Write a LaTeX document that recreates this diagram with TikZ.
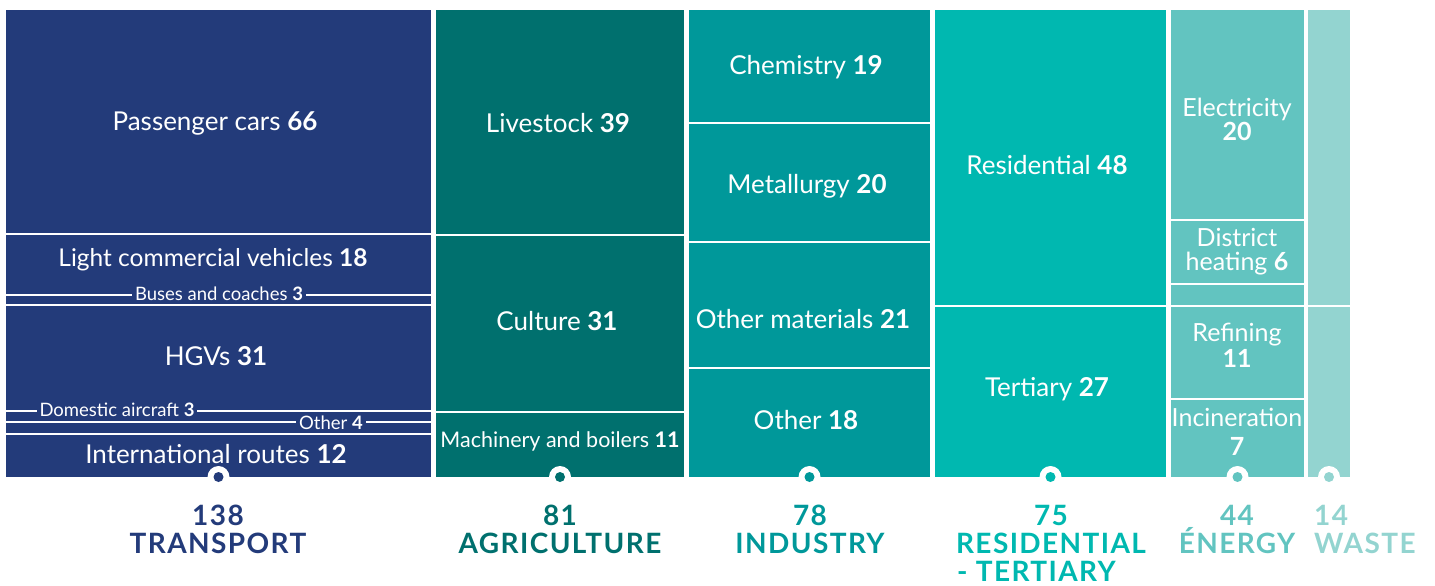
\documentclass[tikz,border=0pt]{standalone}
\usepackage{fontspec}
\setmainfont{Lato}
\definecolor{ctrans}{HTML}{233B7A}
\definecolor{cagri}{HTML}{00706E}
\definecolor{cind}{HTML}{00989A}
\definecolor{cres}{HTML}{00B8B0}
\definecolor{cene}{HTML}{62C4C0}
\definecolor{cwas}{HTML}{93D4D0}
\tikzset{
  sep/.style={draw=white, line width=2pt},
  lbl/.style={text=white, inner sep=0pt, font=\fontsize{26}{29}\selectfont, align=center},
  elbl/.style={text=white, inner sep=0pt, align=center},
  small/.style={text=white, inner sep=3pt, font=\fontsize{18.5}{20}\selectfont},
  cat/.style={inner sep=0pt, font=\fontsize{28}{28}\selectfont\bfseries\addfontfeatures{LetterSpace=5}, align=center},
}
\newcommand{\marker}[2]{\fill[white] (#1,477) circle (11); \fill[#2] (#1,477) circle (5);}
\begin{document}
\begin{tikzpicture}[x=1pt,y=-1pt]
\useasboundingbox (0,0) rectangle (1435,586);
% columns
\fill[ctrans] (6,10) rectangle (431,477);
\fill[cagri] (436,10) rectangle (684,477);
\fill[cind] (689,10) rectangle (930,477);
\fill[cres] (935,10) rectangle (1166,477);
\fill[cene] (1171,10) rectangle (1304,477);
\fill[cwas] (1308,10) rectangle (1350,477);
% transport separators
\draw[sep] (6,234) -- (431,234);
\draw[sep] (6,295) -- (431,295);
\draw[sep] (6,305) -- (431,305);
\draw[sep] (6,411) -- (431,411);
\draw[sep] (6,422) -- (431,422);
\draw[sep] (6,434) -- (431,434);
% agriculture
\draw[sep] (436,235) -- (684,235);
\draw[sep] (436,412) -- (684,412);
% industry
\draw[sep] (689,123) -- (930,123);
\draw[sep] (689,242) -- (930,242);
\draw[sep] (689,368) -- (930,368);
% residential
\draw[sep] (935,306) -- (1166,306);
% energy
\draw[sep] (1171,220) -- (1304,220);
\draw[sep] (1171,284) -- (1304,284);
\draw[sep] (1171,306) -- (1304,306);
\draw[sep] (1171,399) -- (1304,399);
% waste
\draw[sep] (1308,306) -- (1350,306);
% transport labels
\node[lbl] (pc) at (215,123) {Passenger cars \textbf{66}};
\node[lbl, font=\fontsize{24.5}{28}\selectfont] (lcv) at (213,260) {Light commercial vehicles \textbf{18}};
\node[small, fill=ctrans] (bus) at (219,294) {Buses and coaches \textbf{3}};
\node[lbl] (hgv) at (216,356) {HGVs \textbf{31}};
\node[small, fill=ctrans] (dom) at (117,410) {Domestic aircraft \textbf{3}};
\node[small, fill=ctrans] (oth) at (331,423) {Other \textbf{4}};
\node[lbl] (intl) at (216,454) {International routes \textbf{12}};
% agriculture labels
\node[lbl] (live) at (558,123) {Livestock \textbf{39}};
\node[lbl] (cult) at (557,321) {Culture \textbf{31}};
\node[lbl, font=\fontsize{21.5}{24}\selectfont] (mach) at (560,441) {Machinery and boilers \textbf{11}};
% industry labels
\node[lbl] (chem) at (806,67) {Chemistry \textbf{19}};
\node[lbl] (met) at (807,186) {Metallurgy \textbf{20}};
\node[lbl] (omat) at (803,319) {Other materials \textbf{21}};
\node[lbl] (oind) at (806,420) {Other \textbf{18}};
% residential labels
\node[lbl] (resi) at (1047,165) {Residential \textbf{48}};
\node[lbl] (tert) at (1047,389) {Tertiary \textbf{27}};
% energy labels
\node[elbl, font=\fontsize{25}{24}\selectfont] (elec) at (1237,119) {Electricity\\\textbf{20}};
\node[elbl, font=\fontsize{25}{24}\selectfont] (dh) at (1237,252) {District\\heating \textbf{6}};
\node[elbl, font=\fontsize{25}{26}\selectfont] (ref) at (1237,345) {Refining\\\textbf{11}};
\node[elbl, font=\fontsize{25}{29}\selectfont] (inc) at (1237,432) {Incineration\\\textbf{7}};
% markers
\marker{218.5}{ctrans}
\marker{560}{cagri}
\marker{809.5}{cind}
\marker{1050.5}{cres}
\marker{1237.5}{cene}
\marker{1329}{cwas}
% category labels
\node[cat, text=ctrans] (ctr) at (218,529) {138\\TRANSPORT};
\node[cat, text=cagri] (cag) at (560,529) {81\\AGRICULTURE};
\node[cat, text=cind] (cin) at (810,529) {78\\INDUSTRY};
\node[cat, text=cres] (cr1) at (1051,515) {75};
\node[cat, text=cres] (cr2) at (1051,543) {RESIDENTIAL};
\node[cat, text=cres, anchor=west] (cr3) at (957,571) {- TERTIARY};
\node[cat, text=cene] (cen) at (1237,529) {44\\ÉNERGY};
\node[cat, text=cwas, align=left, anchor=west] (cwa) at (1314,529) {14\\WASTE};
\end{tikzpicture}
\end{document}
